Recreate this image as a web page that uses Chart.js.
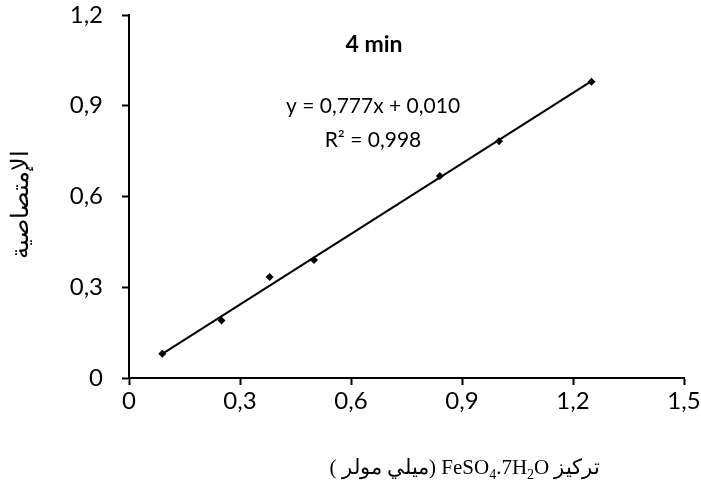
<!DOCTYPE html>
<html>
<head>
<meta charset="utf-8">
<script src="https://cdn.jsdelivr.net/npm/chart.js@4/dist/chart.umd.min.js"></script>
<style>
  html, body { margin: 0; padding: 0; background: #ffffff; }
  #wrap { width: 701px; height: 493px; }
</style>
</head>
<body>
<div id="wrap"><canvas id="chart" width="701" height="493"></canvas></div>
<script>
// Calibration measurements: FeSO4.7H2O concentration (mM) vs absorbance
const concentrations = [0.09, 0.25, 0.38, 0.50, 0.84, 1.00, 1.25];
const absorbances    = [0.08, 0.19, 0.334, 0.39, 0.668, 0.783, 0.979];

// Least-squares fit reported on the chart
const fitSlope = 0.777;
const fitIntercept = 0.010;
const fitR2 = 0.998;

// Axis ticks
const xTicks = [0, 0.3, 0.6, 0.9, 1.2, 1.5];
const yTicks = [0, 0.3, 0.6, 0.9, 1.2];

// Text
const chartTitle = '4 min';
const yTitle = 'الإمتصاصية';
const xTitleWord = 'تركيز';
const xTitleUnit = '(ميلي مولر )';
const xTitleFormula = [['FeSO', false], ['4', true], ['.7H', false], ['2', true], ['O', false]];

const fmt = v => (v === 0 ? '0' : v.toFixed(1).replace('.', ','));
const eqLine1 = 'y = ' + fitSlope.toFixed(3).replace('.', ',') + 'x + ' + fitIntercept.toFixed(3).replace('.', ',');
const eqLine2 = 'R² = ' + fitR2.toFixed(3).replace('.', ',');

const points = concentrations.map((x, i) => ({ x: x, y: absorbances[i] }));
const xMin = Math.min(...concentrations), xMax = Math.max(...concentrations);
const fitLine = [xMin, xMax].map(x => ({ x: x, y: fitSlope * x + fitIntercept }));

const SANS = 'Lato, "Open Sans", sans-serif';
const SERIF = '"Liberation Serif", "DejaVu Serif", serif';

const labelsPlugin = {
  id: 'labels',
  afterDraw(chart) {
    const ctx = chart.ctx;
    ctx.save();
    ctx.fillStyle = '#000';
    ctx.textBaseline = 'middle';
    ctx.textAlign = 'center';

    ctx.font = 'bold 23px ' + SANS;
    ctx.fillText(chartTitle, 374, 45);

    ctx.font = '21px ' + SANS;
    ctx.fillText(eqLine1, 373, 106);
    ctx.fillText(eqLine2, 373, 140);

    // vertical axis title
    ctx.save();
    ctx.translate(22, 204);
    ctx.rotate(-Math.PI / 2);
    ctx.direction = 'rtl';
    ctx.font = '24px ' + SERIF;
    ctx.textAlign = 'center';
    ctx.fillText(yTitle, 0, 0);
    ctx.restore();

    // horizontal axis title, laid out left to right
    const base = '21px ' + SERIF;
    const small = '14px ' + SERIF;
    const pieces = [];
    pieces.push({ t: xTitleUnit, f: base, rtl: true, dy: 0 });
    pieces.push({ t: ' ', f: base, dy: 0 });
    xTitleFormula.forEach(([t, sub]) => pieces.push({ t: t, f: sub ? small : base, dy: sub ? 5 : 0 }));
    pieces.push({ t: ' ', f: base, dy: 0 });
    pieces.push({ t: xTitleWord, f: base, rtl: true, dy: 0 });
    let total = 0;
    pieces.forEach(p => {
      ctx.font = p.f;
      ctx.direction = p.rtl ? 'rtl' : 'ltr';
      p.w = ctx.measureText(p.t).width;
      total += p.w;
    });
    let x = 465 - total / 2;
    ctx.textAlign = 'left';
    ctx.textBaseline = 'alphabetic';
    pieces.forEach(p => {
      ctx.font = p.f;
      ctx.direction = p.rtl ? 'rtl' : 'ltr';
      ctx.fillText(p.t, x, 474 + p.dy);
      x += p.w;
    });
    ctx.restore();
  }
};

new Chart(document.getElementById('chart'), {
  type: 'scatter',
  data: {
    datasets: [
      {
        label: 'trend',
        data: fitLine,
        showLine: true,
        borderColor: '#000',
        borderWidth: 2,
        pointRadius: 0,
        fill: false
      },
      {
        label: 'absorbance',
        data: points,
        pointStyle: 'rectRot',
        pointRadius: 4,
        backgroundColor: '#000',
        borderColor: '#000',
        borderWidth: 0
      }
    ]
  },
  options: {
    responsive: false,
    animation: false,
    devicePixelRatio: 1,
    layout: { padding: { top: 15, right: 17, left: 0, bottom: 0 } },
    plugins: { legend: { display: false }, tooltip: { enabled: false }, title: { display: false } },
    scales: {
      x: {
        type: 'linear',
        min: 0, max: 1.5,
        afterBuildTicks: s => { s.ticks = xTicks.map(v => ({ value: v })); },
        afterFit: s => { s.height = 115; s.paddingLeft = 0; s.paddingRight = 0; },
        border: { color: '#000', width: 2 },
        grid: { drawOnChartArea: false, drawTicks: true, tickLength: 7, tickColor: '#000', tickWidth: 2 },
        ticks: { color: '#000', font: { family: SANS, size: 24 }, padding: 2, callback: v => fmt(v), maxRotation: 0 }
      },
      y: {
        type: 'linear',
        min: 0, max: 1.2,
        afterBuildTicks: s => { s.ticks = yTicks.map(v => ({ value: v })); },
        afterFit: s => { s.width = 129; s.paddingTop = 0; s.paddingBottom = 0; },
        border: { color: '#000', width: 2 },
        grid: { drawOnChartArea: false, drawTicks: true, tickLength: 7, tickColor: '#000', tickWidth: 2 },
        ticks: { color: '#000', font: { family: SANS, size: 24 }, padding: 19, callback: v => fmt(v) }
      }
    }
  },
  plugins: [labelsPlugin]
});
</script>
</body>
</html>
